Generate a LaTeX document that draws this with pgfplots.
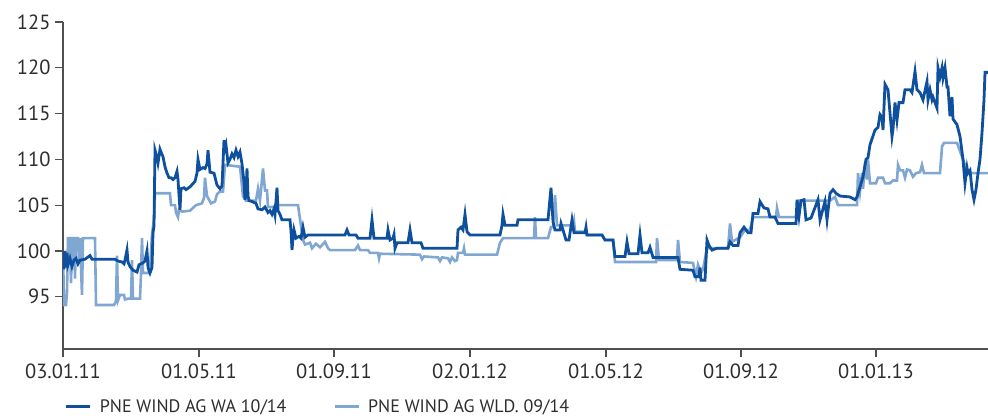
\documentclass[border=0pt]{standalone}
\usepackage{pgfplots}
\pgfplotsset{compat=1.18}
\usepackage{fontspec}
\setmainfont{PT Sans}
\definecolor{darkb}{RGB}{14,80,158}
\definecolor{lightb}{RGB}{128,166,210}
\definecolor{axgray}{RGB}{80,80,80}
\definecolor{txt}{RGB}{45,45,45}
\begin{document}
\begin{tikzpicture}
\begin{axis}[
  at={(0,0)}, anchor=south west,
  width=925pt, height=327pt, scale only axis,
  xmin=63, xmax=988, ymin=89.3, ymax=125,
  axis lines*=left,
  axis line style={-, axgray, line width=1.4pt},
  xtick={63,199,334,470,606,741,876},
  xticklabels={03.01.11,01.05.11,01.09.11,02.01.12,01.05.12,01.09.12,01.01.13},
  ytick={95,100,105,110,115,120,125},
  tick align=outside,
  tick style={axgray, line width=1.3pt},
  major tick length=8pt,
  /pgf/number format/assume math mode=true,
  ticklabel style={font=\fontsize{20.5}{24}\selectfont, text=txt},
  yticklabel style={xshift=-1pt},
  xticklabel style={yshift=-3pt},
  clip=true,
  legend style={at={(axis description cs:0.002,-0.176)}, anchor=west, draw=none, fill=none,
     font=\fontsize{18}{22}\selectfont, text=txt, legend columns=2,
     /tikz/every odd column/.append style={column sep=8pt},
     /tikz/every even column/.append style={column sep=47pt}, inner sep=0pt,
     nodes={inner sep=0pt, outer sep=0pt}},
  legend image code/.code={\draw[#1] (0pt,0pt) -- (24pt,0pt);},
]
\addplot[lightb, line width=2.6pt, forget plot] coordinates {
(63,100.0)(64,94.1)(66,94.1)(67,95.5)(68,101.4)(70,101.4)(71,96.5)(72,101.4)(74,101.4)(75,97)(76,101.4)(78,101.4)(79,98.8)(80,101.4)(82,95.2)(83,101.4)(95,101.4)(96,94.1)(114,94.1)(116,94.5)(117,99.5)(118,94.6)(120,95.2)(124,95.2)(125,94.7)(128,94.8)(131,94.8)(132,99.0)(133,94.8)(140,94.8)(141,97.5)(142,101.4)(143,97.6)(148,97.6)(150,98.0)(152,101.8)(154,103.5)(155,106.3)(170,106.3)(171,105.0)(175,105.0)(176,104.2)(178,103.7)(179,104.5)(182,104.3)(190,104.4)(196,105.0)(202,105.2)(204,105.8)(205,108.0)(207,106.0)(211,105.2)(215,105.4)(217,106.2)(220,106.5)(223,106.5)(225,109.4)(240,109.2)(243,106.0)(246,105.5)(256,105.5)(258,106.8)(260,105.5)(263,109.0)(265,106.6)(267,106.6)(268,104.8)(276,104.8)(278,105.0)(298,105.0)(300,103.5)(303,101.2)(305,100.7)(310,100.9)(312,100.3)(316,100.8)(320,100.4)(325,101.0)(328,100.3)(330,100.1)(355,100.1)(358,100.6)(360,100.1)(368,100.1)(370,99.8)(378,99.8)(379,99.2)(380,99.7)(420,99.6)(422,99.1)(424,99.4)(438,99.3)(440,98.9)(442,99.3)(448,99.2)(450,98.8)(452,99.3)(455,98.9)(457,99.0)(458,99.8)(463,99.8)(464,100.3)(465,99.6)(497,99.6)(500,100.9)(503,101.4)(534,101.4)(535,103.7)(536,101.4)(548,101.4)(551,102.6)(553,102.6)(555,106.1)(557,102.8)(573,102.8)(574,103.3)(575,102.1)(585,102.1)(587,101.75)(602,101.75)(605,101.2)(613,101.2)(615,98.8)(656,98.8)(657,101.4)(659,99.0)(677,99.0)(678,101.2)(680,98.8)(693,98.7)(696,97.2)(698,98.5)(701,97.6)(703,98.0)(707,100.3)(728,100.3)(730,103.0)(732,101.0)(740,101.5)(745,102.3)(750,102.3)(753,103.7)(776,103.7)(777,104.7)(779,103.7)(796,103.7)(799,105.5)(830,105.5)(835,105.9)(838,105.0)(857,105.0)(858,108.5)(860,106.5)(862,108.5)(863,106.8)(865,109.6)(867,107.8)(868,110.0)(870,107.4)(876,107.4)(878,108.0)(883,108.0)(885,107.4)(890,107.4)(893,107.7)(897,107.7)(898,109.4)(900,108.8)(903,108.8)(905,108.0)(907,108.9)(910,108.8)(913,108.1)(916,108.5)(920,108.6)(922,109.4)(924,108.5)(940,108.5)(942,111.4)(944,111.8)(957,111.8)(959,111.2)(963,110.0)(968,108.5)(988,108.5)
};
\addplot[darkb, line width=2.8pt] coordinates {
(63,100.0)(64,98.0)(65,100.0)(66,98.2)(67,99.8)(68,98.5)(70,99.2)(72,98.3)(74,99.0)(76,99.2)(78,98.6)(80,99.0)(85,99.1)(90,99.5)(92,99.1)(115,99.1)(118,98.9)(122,98.8)(124,98.6)(125,99.0)(127,100.1)(128,98.8)(130,98.3)(133,97.9)(137,97.7)(139,98.5)(143,98.7)(145,98.9)(147,100.0)(148,98.2)(150,97.6)(152,98.2)(153,102.0)(154,102.7)(155,111.0)(157,110.2)(158,109.6)(160,111.1)(161,110.8)(163,110.3)(165,109.2)(167,108.5)(169,108.0)(171,108.0)(173,107.8)(175,108.0)(177,108.7)(178,107.8)(180,104.5)(181,106.8)(184,106.9)(186,106.7)(190,107.0)(195,107.6)(197,108.5)(198,110.0)(200,108.9)(203,109.1)(205,109.0)(207,109.5)(208,111.0)(210,108.6)(214,108.5)(217,107.2)(220,106.8)(222,107.1)(224,112.1)(225,111.2)(226,111.6)(228,109.6)(230,110.0)(232,110.6)(234,110.2)(236,111.0)(238,110.3)(240,110.8)(242,109.5)(244,107.5)(245,105.6)(246,106.5)(247,109.0)(248,106.0)(249,105.5)(252,105.4)(256,105.2)(258,104.6)(262,104.5)(265,104.8)(268,104.2)(270,104.4)(272,104.0)(274,104.6)(275,104.0)(277,106.9)(278,104.4)(280,104.0)(282,103.4)(290,103.4)(291,102.2)(292,100.1)(293,101.4)(294,102.3)(296,101.4)(299,101.6)(301,101.4)(303,102.6)(305,101.5)(308,101.75)(345,101.75)(347,102.3)(349,101.75)(356,101.75)(358,101.4)(370,101.4)(372,103.4)(374,101.4)(387,101.4)(388,102.3)(390,101.2)(393,101.4)(394,101.8)(395,100.3)(397,100.9)(408,100.9)(410,102.3)(412,100.9)(421,100.9)(423,100.3)(457,100.3)(458,102.3)(461,102.6)(463,102.3)(465,104.0)(467,102.1)(470,101.75)(500,101.75)(502,102.8)(503,104.0)(505,102.8)(517,102.8)(518,103.4)(548,103.4)(551,106.9)(553,103.2)(555,102.3)(560,102.3)(561,103.0)(563,102.3)(566,101.2)(569,101.2)(572,103.4)(574,102.0)(585,102.0)(586,102.6)(587,101.75)(602,101.75)(605,101.2)(613,101.2)(615,99.4)(625,99.4)(627,101.0)(629,99.7)(638,99.7)(640,101.75)(642,99.8)(648,99.8)(650,100.4)(653,99.3)(678,99.3)(680,98.0)(693,97.9)(695,97.2)(699,97.2)(700,98.2)(701,96.8)(705,96.8)(707,101.2)(709,100.6)(712,100.1)(717,100.3)(728,100.3)(730,101.0)(733,100.6)(738,100.6)(740,102.0)(744,102.6)(748,102.0)(751,102.0)(753,104.1)(758,104.1)(760,105.4)(764,104.7)(768,104.6)(770,103.7)(775,103.7)(778,103.0)(796,103.0)(797,105.6)(799,103.8)(801,105.5)(804,105.6)(806,103.4)(811,103.6)(818,105.6)(820,103.4)(825,105.4)(827,103.4)(830,106.3)(833,106.7)(836,106.3)(840,106.0)(850,105.9)(855,105.6)(857,105.9)(860,107.0)(863,108.1)(866,110.0)(868,110.2)(870,111.6)(875,113.2)(878,113.5)(880,114.9)(882,114.6)(883,113.2)(885,118.2)(888,117.6)(892,112.5)(893,113.3)(895,116.2)(897,114.3)(899,116.2)(903,116.2)(905,117.6)(910,117.6)(912,117.3)(915,119.6)(917,117.6)(920,117.3)(923,116.5)(927,118.5)(928,116.5)(930,117.6)(932,116.5)(933,116.8)(937,115.6)(938,120.0)(940,119.0)(942,120.0)(943,118.9)(945,120.0)(947,117.9)(948,117.9)(950,114.7)(952,116.8)(953,114.4)(957,113.8)(960,112.5)(963,110.0)(965,107.4)(967,109.1)(968,108.5)(970,108.8)(972,106.7)(974,105.6)(976,106.7)(978,108.5)(980,110.0)(982,112.9)(984,116.5)(985,119.5)(988,119.5)
};
\addlegendentry{PNE WIND AG WA 10/14}
\addlegendimage{lightb, line width=2.6pt}
\addlegendentry{PNE WIND AG WLD. 09/14}
\end{axis}
\pgfresetboundingbox
\path (-63pt,-71pt) rectangle (925pt,349pt);
\end{tikzpicture}
\end{document}
